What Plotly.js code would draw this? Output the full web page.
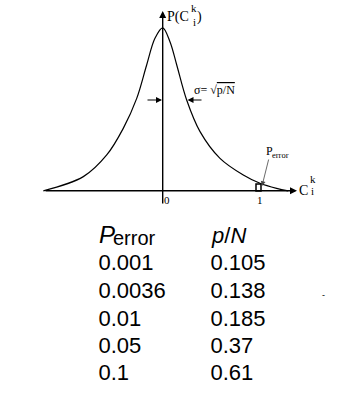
<!DOCTYPE html>
<html><head><meta charset="utf-8">
<script src="https://cdn.plot.ly/plotly-3.0.1.min.js"></script>
<style>html,body{margin:0;padding:0;background:#fff}#c{width:345px;height:397px}</style>
</head><body><div id="c"></div>
<script>
// Curve (x in units of C_i^k, y normalised to peak = 1)
const curveX = [-1.250, -0.831, -0.586, -0.413, -0.272, -0.168, -0.081, 0, 0.076, 0.147, 0.251, 0.391, 0.600, 0.844, 1.019, 1.193, 1.314];
const curveY = [0.0, 0.087, 0.220, 0.383, 0.567, 0.772, 0.936, 1.0, 0.915, 0.772, 0.557, 0.363, 0.199, 0.097, 0.046, 0.015, 0.0];
// Table
const perrorVals = ['0.001', '0.0036', '0.01', '0.05', '0.1'];
const pNVals = ['0.105', '0.138', '0.185', '0.37', '0.61'];
const xTickLabels = ['0', '1'];

const W = 345, H = 397;
const X0 = 162.7, SX = 95.5, Y0 = 190.8, SY = 163;
const px = v => v / W, py = v => 1 - v / H;
const dx = v => (v - X0) / SX, dy = v => (Y0 - v) / SY;
const serif = 'Liberation Serif, Times New Roman, serif';
const sans = 'Liberation Sans, Arial, sans-serif';

const ann = [];
function txt(x, y, t, size, fam, anchor, extra) {
  ann.push(Object.assign({xref:'paper', yref:'paper', x:px(x), y:py(y), text:t, showarrow:false, align:'left',
    xanchor:anchor||'center', yanchor:'middle', borderpad:0, font:{family:fam, size:size, color:'#000'}}, extra||{}));
}
function arrow(hx, hy, tx, ty, w, col, head, size) {
  ann.push({xref:'paper', yref:'paper', x:px(hx), y:py(hy), ax:tx-hx, ay:ty-hy, text:'', showarrow:true,
    arrowhead:head, arrowsize:size, arrowwidth:w, arrowcolor:col});
}
// axes
arrow(297, 190.8, 44, 190.8, 1.4, '#000', 2, 1);
arrow(162.7, 11, 162.7, 205, 1.4, '#000', 2, 1);
// sigma arrows
arrow(162, 100, 146, 100, 1.2, '#000', 2, 1);
arrow(187.5, 100, 203, 100, 1.2, '#000', 2, 1);
// P_error pointer
arrow(262, 186, 269, 158, 0.8, '#444', 2, 1.2);

// y axis label P(C_i^k)
txt(166, 17, 'P(C', 14, serif, 'left');
txt(194, 7.5, 'k', 11, serif, 'center');
txt(194, 21.5, 'i', 11, serif, 'center');
txt(199.5, 17, ')', 14, serif, 'center');
// x axis label
txt(303, 190, 'C', 14, serif, 'center');
txt(312.5, 179, 'k', 11, serif, 'center');
txt(312.5, 191, 'i', 11, serif, 'center');
// ticks
txt(X0 + 0 * SX + 4.5, 200, xTickLabels[0], 11, serif, 'center');
txt(X0 + 1 * SX + 1.5, 200, xTickLabels[1], 11, serif, 'center');
// sigma label
txt(193, 90, 'σ= √<span style="text-decoration:overline">p/N</span>', 12, serif, 'left');
// P_error label
txt(265, 151, 'P', 12, serif, 'left');
txt(271, 155, 'error', 8.5, serif, 'left');

// table header
txt(98, 234, '<i>P</i>', 24, sans, 'left');
txt(112, 237.5, 'error', 20, sans, 'left');
txt(209.5, 236, '<i>p</i>/<i>N</i>', 22, sans, 'left');
txt(323, 295, '-', 9, sans, 'center');

const rowY = [264, 292, 320, 347, 374];
const tableFont = {family: sans, size: 22, color: '#000'};
const data = [
  {x: curveX, y: curveY, type:'scatter', mode:'lines', line:{color:'#000', width:1.2, shape:'spline', smoothing:1}, hoverinfo:'skip'},
  {x: perrorVals.map(() => dx(98.5)), y: rowY.map(dy), text: perrorVals, type:'scatter', mode:'text', textposition:'middle right', textfont: tableFont, hoverinfo:'skip'},
  {x: pNVals.map(() => dx(210.5)), y: rowY.map(dy), text: pNVals, type:'scatter', mode:'text', textposition:'middle right', textfont: tableFont, hoverinfo:'skip'}
];
const layout = {
  width: W, height: H, margin:{l:0, r:0, t:0, b:0}, paper_bgcolor:'#fff', plot_bgcolor:'#fff', showlegend:false,
  xaxis:{range:[-X0/SX, (W - X0)/SX], visible:false, fixedrange:true},
  yaxis:{range:[(Y0 - H)/SY, Y0/SY], visible:false, fixedrange:true},
  shapes:[{type:'rect', xref:'paper', yref:'paper', x0:px(256), x1:px(261), y0:py(191), y1:py(184), line:{color:'#000', width:1.5}}],
  annotations: ann
};
Plotly.newPlot('c', data, layout, {staticPlot:true, displayModeBar:false});
</script></body></html>
